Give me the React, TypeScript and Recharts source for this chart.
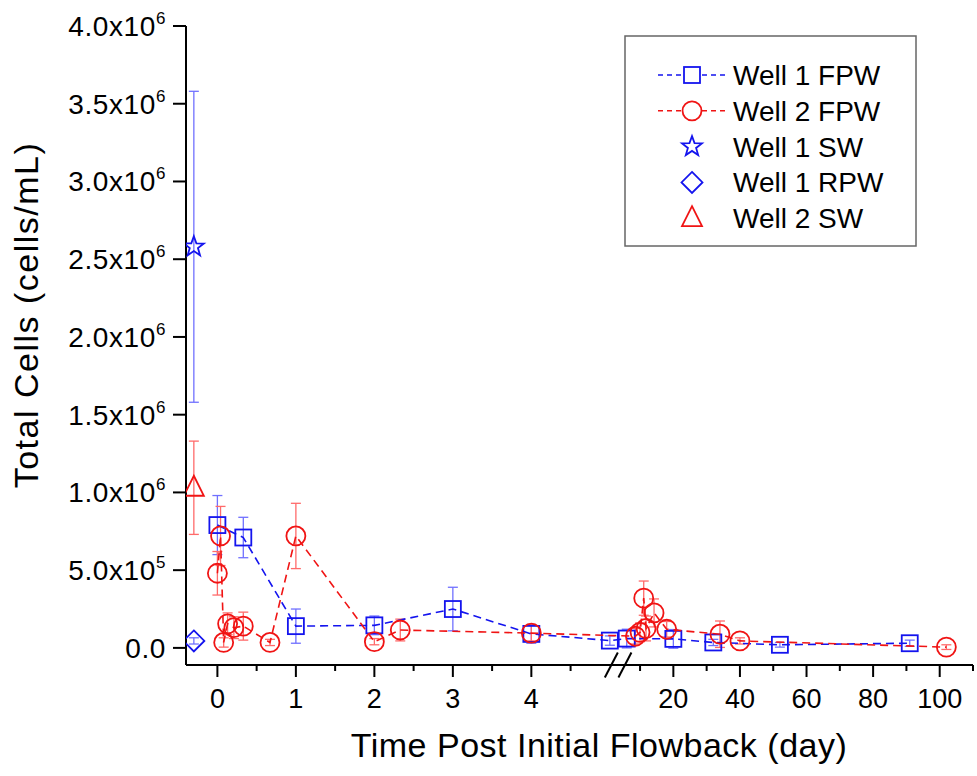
import React from 'react';
import { ScatterChart, Scatter, XAxis, YAxis, ErrorBar, Legend, ReferenceLine } from 'recharts';

const BLUE = '#1414ee';
const RED = '#f01414';
const BLUE_ERR = '#7070ff';
const RED_ERR = '#ff6a6a';
const FONT = 'Arial, "Liberation Sans", Helvetica, sans-serif';

// Well 1 flowback water (days post flowback, cells/mL, error)
const W1_FPW_DAY = [0, 0.33, 1, 2, 3, 4, 5, 6, 20, 32, 52, 91];
const W1_FPW_CELLS = [790000, 710000, 140000, 145000, 250000, 90000, 47000, 60000, 58000, 35000, 20000, 30000];
const W1_FPW_ERR = [190000, 130000, 110000, 60000, 140000, 60000, 30000, 60000, 60000, 20000, 15000, 20000];

// Well 2 flowback water
const W2_FPW_DAY = [0, 0.04, 0.08, 0.13, 0.21, 0.33, 0.67, 1, 2, 2.33, 4, 8.6, 10, 11.1, 11.8, 14.2, 18, 34, 40, 102];
const W2_FPW_CELLS = [480000, 720000, 35000, 155000, 130000, 140000, 35000, 720000, 40000, 115000, 95000, 75000, 100000, 320000, 125000, 225000, 120000, 88000, 45000, 5000];
const W2_FPW_ERR = [140000, 190000, 30000, 70000, 70000, 90000, 20000, 210000, 20000, 70000, 50000, 50000, 60000, 110000, 80000, 90000, 50000, 85000, 20000, 15000];

// source water / recycled water, sampled before flowback
const W1_SW_DAY = [-0.3];
const W1_SW_CELLS = [2580000];
const W1_SW_ERR = [1000000];
const W1_RPW_DAY = [-0.3];
const W1_RPW_CELLS = [45000];
const W1_RPW_ERR = [20000];
const W2_SW_DAY = [-0.3];
const W2_SW_CELLS = [1030000];
const W2_SW_ERR = [300000];

const Y_TICKS = [0, 500000, 1000000, 1500000, 2000000, 2500000, 3000000, 3500000, 4000000];
const X_MAJOR_LEFT = [0, 1, 2, 3, 4];
const X_MINOR_LEFT = [0.5, 1.5, 2.5, 3.5, 4.5];
const X_MAJOR_RIGHT = [20, 40, 60, 80, 100];
const X_MINOR_RIGHT = [10, 30, 50, 70, 90, 110];

// broken x axis: 0-5 days linear, then 5-110 days compressed
const BREAK_DAY = 5;
const BREAK_GAP = 0.173;
const RIGHT_SCALE = 0.04242;
const axisPos = (d: number) => (d <= BREAK_DAY ? d : BREAK_DAY + BREAK_GAP + (d - BREAK_DAY) * RIGHT_SCALE);
const X_MIN = -0.4;
const X_MAX = axisPos(110);

const X_TICK_INFO = [
  ...X_MAJOR_LEFT.map((d) => ({ pos: axisPos(d), label: String(d) })),
  ...X_MINOR_LEFT.map((d) => ({ pos: axisPos(d), label: '' })),
  ...X_MAJOR_RIGHT.map((d) => ({ pos: axisPos(d), label: String(d) })),
  ...X_MINOR_RIGHT.map((d) => ({ pos: axisPos(d), label: '' })),
].sort((a, b) => a.pos - b.pos);

const toPoints = (days: number[], cells: number[], err: number[]) =>
  days.map((d, i) => ({ x: axisPos(d), y: cells[i], err: err[i] }));

type Kind = 'square' | 'circle' | 'star' | 'diamond' | 'triangle';

function starPoints(cx: number, cy: number, ro: number, ri: number) {
  const pts: string[] = [];
  for (let i = 0; i < 10; i++) {
    const r = i % 2 === 0 ? ro : ri;
    const a = -Math.PI / 2 + (i * Math.PI) / 5;
    pts.push(`${cx + r * Math.cos(a)},${cy + r * Math.sin(a)}`);
  }
  return pts.join(' ');
}

function Marker({ kind, cx, cy, color }: { kind: Kind; cx: number; cy: number; color: string }) {
  const common = { fill: 'none', stroke: color, strokeWidth: 1.8 };
  switch (kind) {
    case 'square':
      return <rect x={cx - 8} y={cy - 8} width={16} height={16} {...common} />;
    case 'circle':
      return <circle cx={cx} cy={cy} r={9.5} {...common} />;
    case 'star':
      return <polygon points={starPoints(cx, cy, 10.5, 4.3)} {...common} />;
    case 'diamond':
      return <polygon points={`${cx},${cy - 10.5} ${cx + 10.5},${cy} ${cx},${cy + 10.5} ${cx - 10.5},${cy}`} {...common} />;
    default:
      return <polygon points={`${cx},${cy - 12} ${cx + 10},${cy + 8} ${cx - 10},${cy + 8}`} {...common} />;
  }
}

const shapeOf = (kind: Kind, color: string) => (props: any) => (
  <Marker kind={kind} cx={props.cx} cy={props.cy} color={color} />
);

const LEGEND_ITEMS: { name: string; kind: Kind; color: string; line: boolean }[] = [
  { name: 'Well 1 FPW', kind: 'square', color: BLUE, line: true },
  { name: 'Well 2 FPW', kind: 'circle', color: RED, line: true },
  { name: 'Well 1 SW', kind: 'star', color: BLUE, line: false },
  { name: 'Well 1 RPW', kind: 'diamond', color: BLUE, line: false },
  { name: 'Well 2 SW', kind: 'triangle', color: RED, line: false },
];

function renderLegend() {
  return (
    <svg width={294} height={213} style={{ display: 'block' }}>
      <rect x={1} y={1} width={291} height={210} fill="#fff" stroke="#666" strokeWidth={1.5} />
      {LEGEND_ITEMS.map((it, i) => {
        const cy = 40 + i * 35.8;
        return (
          <g key={it.name}>
            {it.line && (
              <>
                <line x1={34} x2={58} y1={cy} y2={cy} stroke={it.color} strokeWidth={1.5} strokeDasharray="5 4" />
                <line x1={78} x2={102} y1={cy} y2={cy} stroke={it.color} strokeWidth={1.5} strokeDasharray="5 4" />
              </>
            )}
            <Marker kind={it.kind} cx={68} cy={cy} color={it.color} />
            <text x={109} y={cy + 10} fontSize={28} fontFamily={FONT} fill="#000">
              {it.name}
            </text>
          </g>
        );
      })}
    </svg>
  );
}

function XTick(props: any) {
  const { x, y, payload } = props;
  const info = X_TICK_INFO.find((t) => Math.abs(t.pos - payload.value) < 1e-6);
  const major = !!info && info.label !== '';
  return (
    <g>
      <line x1={x} x2={x} y1={y} y2={y + (major ? 12 : 6)} stroke="#000" strokeWidth={2} />
      {major && (
        <text x={x} y={y + 43} textAnchor="middle" fontSize={27} fontFamily={FONT} fill="#000">
          {info!.label}
        </text>
      )}
    </g>
  );
}

function YTick(props: any) {
  const { x, y, payload } = props;
  const v = payload.value as number;
  let body: React.ReactNode = '0.0';
  if (v > 0) {
    const exp = Math.floor(Math.log10(v) + 1e-9);
    const mant = (v / Math.pow(10, exp)).toFixed(1);
    body = (
      <>
        {mant}x10
        <tspan dy={-12} fontSize={17}>
          {exp}
        </tspan>
      </>
    );
  }
  return (
    <g>
      <line x1={x - 13} x2={x} y1={y} y2={y} stroke="#000" strokeWidth={2} />
      <text x={x - 20} y={y + 10} textAnchor="end" fontSize={28} letterSpacing={0.6} fontFamily={FONT} fill="#000">
        {body}
      </text>
    </g>
  );
}

const renderYTitle = () => (
  <text x={38} y={315} transform="rotate(-90 38 315)" textAnchor="middle" fontSize={34} letterSpacing={1.5} fontFamily={FONT} fill="#000">
    Total Cells (cells/mL)
  </text>
);

const renderXTitle = () => (
  <text x={599} y={757} textAnchor="middle" fontSize={34} letterSpacing={0.5} fontFamily={FONT} fill="#000">
    Time Post Initial Flowback (day)
  </text>
);

function BreakMark(p: any) {
  const cx = p.x1 + 1.5;
  const yb = Math.max(p.y1, p.y2);
  return (
    <g>
      <rect x={cx - 6} y={yb - 3} width={12} height={6} fill="#fff" />
      <line x1={cx - 13.3} y1={yb + 12.5} x2={cx - 0.3} y2={yb - 12.5} stroke="#000" strokeWidth={2} />
      <line x1={cx + 0.3} y1={yb + 12.5} x2={cx + 13.3} y2={yb - 12.5} stroke="#000" strokeWidth={2} />
    </g>
  );
}

export default function App() {
  const w1fpw = toPoints(W1_FPW_DAY, W1_FPW_CELLS, W1_FPW_ERR);
  const w2fpw = toPoints(W2_FPW_DAY, W2_FPW_CELLS, W2_FPW_ERR);
  const w1sw = toPoints(W1_SW_DAY, W1_SW_CELLS, W1_SW_ERR);
  const w1rpw = toPoints(W1_RPW_DAY, W1_RPW_CELLS, W1_RPW_ERR);
  const w2sw = toPoints(W2_SW_DAY, W2_SW_CELLS, W2_SW_ERR);
  const dashed = (c: string) => ({ stroke: c, strokeWidth: 1.6, strokeDasharray: '8 5' });

  return (
    <div style={{ position: 'absolute', left: 0, top: 0, width: 977, height: 776, background: '#fff', fontFamily: FONT }}>
      <ScatterChart width={977} height={776} margin={{ top: 26, right: 4, left: 0, bottom: 0 }}>
        <XAxis
          type="number"
          dataKey="x"
          domain={[X_MIN, X_MAX]}
          allowDataOverflow
          ticks={X_TICK_INFO.map((t) => t.pos)}
          interval={0}
          height={111}
          tickSize={0}
          tickMargin={0}
          tickLine={false}
          tick={<XTick />}
          axisLine={{ stroke: '#000', strokeWidth: 2 }}
          label={renderXTitle}
        />
        <YAxis
          type="number"
          dataKey="y"
          domain={[-110000, 4000000]}
          allowDataOverflow
          ticks={Y_TICKS}
          interval={0}
          width={186}
          tickSize={0}
          tickMargin={0}
          tickLine={false}
          tick={<YTick />}
          axisLine={{ stroke: '#000', strokeWidth: 2 }}
          label={renderYTitle}
        />
        <ReferenceLine x={BREAK_DAY + BREAK_GAP / 2} shape={BreakMark} />
        <Scatter name="Well 1 FPW" data={w1fpw} line={dashed(BLUE)} lineType="joint" shape={shapeOf('square', BLUE)} isAnimationActive={false}>
          <ErrorBar dataKey="err" direction="y" width={5} stroke={BLUE_ERR} strokeWidth={1.3} isAnimationActive={false} />
        </Scatter>
        <Scatter name="Well 2 FPW" data={w2fpw} line={dashed(RED)} lineType="joint" shape={shapeOf('circle', RED)} isAnimationActive={false}>
          <ErrorBar dataKey="err" direction="y" width={5} stroke={RED_ERR} strokeWidth={1.3} isAnimationActive={false} />
        </Scatter>
        <Scatter name="Well 1 SW" data={w1sw} shape={shapeOf('star', BLUE)} isAnimationActive={false}>
          <ErrorBar dataKey="err" direction="y" width={5} stroke={BLUE_ERR} strokeWidth={1.3} isAnimationActive={false} />
        </Scatter>
        <Scatter name="Well 1 RPW" data={w1rpw} shape={shapeOf('diamond', BLUE)} isAnimationActive={false}>
          <ErrorBar dataKey="err" direction="y" width={5} stroke={BLUE_ERR} strokeWidth={1.3} isAnimationActive={false} />
        </Scatter>
        <Scatter name="Well 2 SW" data={w2sw} shape={shapeOf('triangle', RED)} isAnimationActive={false}>
          <ErrorBar dataKey="err" direction="y" width={5} stroke={RED_ERR} strokeWidth={1.3} isAnimationActive={false} />
        </Scatter>
        <Legend
          layout="vertical"
          align="center"
          verticalAlign="middle"
          wrapperStyle={{ left: 624, top: 35, width: 294, height: 213 }}
          content={renderLegend}
        />
      </ScatterChart>
    </div>
  );
}
